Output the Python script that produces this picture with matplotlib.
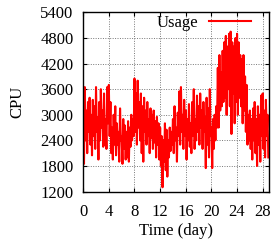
import numpy as np
import matplotlib
matplotlib.use("Agg")
import matplotlib.pyplot as plt

plt.rcParams['font.family'] = ['Liberation Serif', 'DejaVu Serif']

# CPU usage, 8 samples per day
usage_by_day = [
    [2900, 1850, 3650, 2400, 3100, 2100, 3300, 2600],
    [3400, 2300, 3000, 2050, 3350, 2500, 3200, 2200],
    [3650, 2600, 2950, 1950, 3300, 2400, 3600, 2700],
    [3100, 2250, 3500, 2300, 2900, 2200, 3650, 2800],
    [3700, 2500, 3300, 2100, 2700, 1950, 3000, 2300],
    [3200, 2050, 2800, 2300, 2600, 1900, 3150, 2400],
    [2500, 1850, 2900, 2200, 2750, 1950, 2600, 2000],
    [2850, 1900, 2700, 2250, 3000, 2400, 2900, 2500],
    [3850, 2600, 3500, 2300, 3800, 2700, 3300, 2400],
    [3500, 2100, 3200, 1900, 3400, 2600, 3100, 2300],
    [3300, 2500, 2900, 2100, 3150, 2450, 3000, 2200],
    [3100, 2350, 2850, 2000, 2950, 2300, 2800, 1950],
    [2700, 1800, 2500, 1300, 2400, 1900, 2800, 1700],
    [2650, 1550, 2400, 2000, 2700, 2150, 2600, 2300],
    [2900, 2100, 3200, 2400, 2700, 1900, 3050, 2500],
    [3550, 2300, 3650, 2600, 3000, 2200, 3350, 2500],
    [3100, 1950, 2900, 2400, 3250, 2250, 2800, 2100],
    [3300, 2500, 3600, 2200, 2900, 2400, 3450, 2600],
    [3200, 2300, 3500, 2700, 3100, 2200, 3300, 2600],
    [2950, 1750, 3400, 2300, 3150, 2000, 3600, 2500],
    [2700, 1750, 2900, 2200, 3000, 2400, 3200, 2700],
    [4100, 2700, 4400, 3100, 4000, 3200, 4500, 3300],
    [4700, 3400, 4850, 3000, 4600, 3600, 4900, 3200],
    [4950, 2550, 4700, 3500, 4600, 2800, 4800, 3300],
    [4900, 3000, 4700, 3400, 4400, 3200, 4300, 2800],
    [4400, 3100, 3900, 2600, 3700, 2300, 3000, 2400],
    [3100, 2200, 2900, 1950, 3150, 2400, 3300, 2100],
    [2900, 1800, 3200, 2300, 3000, 1900, 3450, 2500],
    [3500, 2200, 3100, 2000, 3350, 2500, 3000, 2000],
]
samples_per_day = 8
x_ticks = [0, 4, 8, 12, 16, 20, 24, 28]
y_ticks = [1200, 1800, 2400, 3000, 3600, 4200, 4800, 5400]

usage = np.array(usage_by_day, dtype=float).ravel()
t = np.arange(len(usage)) / samples_per_day

fig = plt.figure(figsize=(2.71, 2.44), dpi=100)
ax = fig.add_axes([0.307, 0.215, 0.686, 0.734])

ax.plot(t, usage, color='#ff0000', lw=1.5, label='Usage')

ax.set_xlim(0, 29)
ax.set_ylim(1200, 5400)
ax.set_xticks(x_ticks)
ax.set_yticks(y_ticks)
ax.tick_params(direction='in', top=True, right=True, length=3, width=0.8,
               labelsize=12)
ax.tick_params(axis='x', pad=9)
ax.tick_params(axis='y', pad=7)
ax.grid(True, color='#777777', linestyle=(0, (1, 1.5)), lw=0.7)
for s in ax.spines.values():
    s.set_linewidth(1.0)
    s.set_color('black')

ax.set_xlabel('Time (day)', fontsize=12, labelpad=2)
ax.set_ylabel('CPU', fontsize=12, labelpad=11)

ax.legend(loc='upper right', frameon=False, markerfirst=False, fontsize=12,
          handlelength=2.5, handletextpad=0.65, borderaxespad=0.1,
          bbox_to_anchor=(0.945, 1.035))

fig.savefig('out.png', dpi=100)
